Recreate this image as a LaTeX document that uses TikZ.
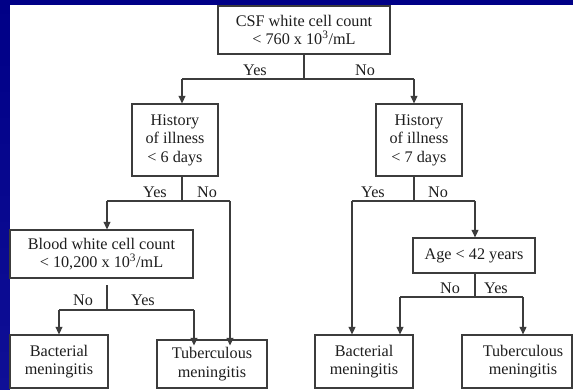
\documentclass[tikz,border=0pt]{standalone}
\usepackage{fontspec}
\setmainfont{Liberation Serif}
\usetikzlibrary{arrows.meta}
\definecolor{slideblue}{RGB}{0,0,135}
\definecolor{ink}{RGB}{30,30,30}
\definecolor{wire}{RGB}{60,60,60}
\tikzset{
  box/.style={draw=wire, line width=1.3pt, fill=white, text=ink, align=center, inner sep=0pt,
    font=\fontsize{16.2pt}{18.5pt}\selectfont},
  lbl/.style={text=ink, inner sep=0pt, font=\fontsize{16.2pt}{18pt}\selectfont},
  wirel/.style={draw=wire, line width=1.3pt},
  arr/.style={wirel, -{Triangle[width=7pt,length=7.5pt]}},
}
\begin{document}
\begin{tikzpicture}[x=1pt,y=-1pt]
\useasboundingbox (0,0) rectangle (573,390);
\shade[top color=slideblue, bottom color={rgb,255:red,15;green,15;blue,150}] (0,0) rectangle (573,390);
\fill[white] (10,5) rectangle (573,390);

% boxes
\node[box, minimum width=172pt, minimum height=48pt] (csf) at (304,30) {CSF white cell count\\< 760 x 10\textsuperscript{3}/mL};
\node[box, minimum width=86pt, minimum height=72pt] (histL) at (175,140) {History\\of illness\\< 6 days};
\node[box, minimum width=86pt, minimum height=72pt] (histR) at (419,140) {History\\of illness\\< 7 days};
\node[box, minimum width=183pt, minimum height=48pt] (blood) at (101.5,254) {Blood white cell count\\< 10,200 x 10\textsuperscript{3}/mL};
\node[box, minimum width=122pt, minimum height=35pt] (age) at (474,255.5) {Age < 42 years};
\node[box, minimum width=98pt, minimum height=53pt] (bactL) at (59,361.5) {Bacterial\\meningitis};
\node[box, minimum width=110pt, minimum height=48pt] (tubL) at (212,364) {Tuberculous\\meningitis};
\node[box, minimum width=98pt, minimum height=53pt] (bactR) at (364,361.5) {Bacterial\\meningitis};
\node[box, minimum width=110pt, minimum height=53pt] (tubR) at (517,361.5) {};
\node[lbl, align=center, font=\fontsize{16.2pt}{18.5pt}\selectfont] (tubRtext) at (523,361.5) {Tuberculous\\meningitis};

% branch points
\coordinate (j1) at (304,79);
\coordinate (j1L) at (182,79);
\coordinate (j1R) at (414,79);
\coordinate (j2) at (182,201);
\coordinate (j2L) at (107,201);
\coordinate (j2R) at (230,201);
\coordinate (j3top) at (107,285);
\coordinate (j3) at (107,310);
\coordinate (j3L) at (59,310);
\coordinate (j3R) at (194,310);
\coordinate (j4) at (414,201);
\coordinate (j4L) at (352,201);
\coordinate (j4R) at (475,201);
\coordinate (j5) at (475,297);
\coordinate (j5L) at (400,297);
\coordinate (j5R) at (523,297);

% CSF split
\draw[wirel] (csf.south) -- (j1);
\draw[wirel] (j1L) -- (j1R);
\draw[arr] (j1L) -- (j1L |- histL.north);
\draw[arr] (j1R) -- (j1R |- histR.north);
\node[lbl] (y1) at (255,70) {Yes};
\node[lbl] (n1) at (365,70) {No};

% left history split
\draw[wirel] (j2 |- histL.south) -- (j2);
\draw[wirel] (j2L) -- (j2R);
\draw[arr] (j2L) -- (j2L |- blood.north);
\draw[arr] (j2R) -- ([yshift=-6pt]j2R |- tubL.north);
\node[lbl] (y2) at (155,192) {Yes};
\node[lbl] (n2) at (207,192) {No};

% blood split
\draw[wirel] (j3top) -- (j3);
\draw[wirel] (j3L) -- (j3R);
\draw[arr] (j3L) -- (j3L |- bactL.north);
\draw[arr] (j3R) -- ([yshift=-6pt]j3R |- tubL.north);
\node[lbl] (n3) at (83,300) {No};
\node[lbl] (y3) at (143,300) {Yes};

% right history split
\draw[wirel] (j4 |- histR.south) -- (j4);
\draw[wirel] (j4L) -- (j4R);
\draw[arr] (j4L) -- (j4L |- bactR.north);
\draw[arr] (j4R) -- (j4R |- age.north);
\node[lbl] (y4) at (373,192) {Yes};
\node[lbl] (n4) at (438,192) {No};

% age split
\draw[wirel] (j5 |- age.south) -- (j5);
\draw[wirel] (j5L) -- (j5R);
\draw[arr] (j5L) -- (j5L |- bactR.north);
\draw[arr] (j5R) -- (j5R |- tubR.north);
\node[lbl] (n5) at (450,288) {No};
\node[lbl] (y5) at (496,288) {Yes};
\end{tikzpicture}
\end{document}
